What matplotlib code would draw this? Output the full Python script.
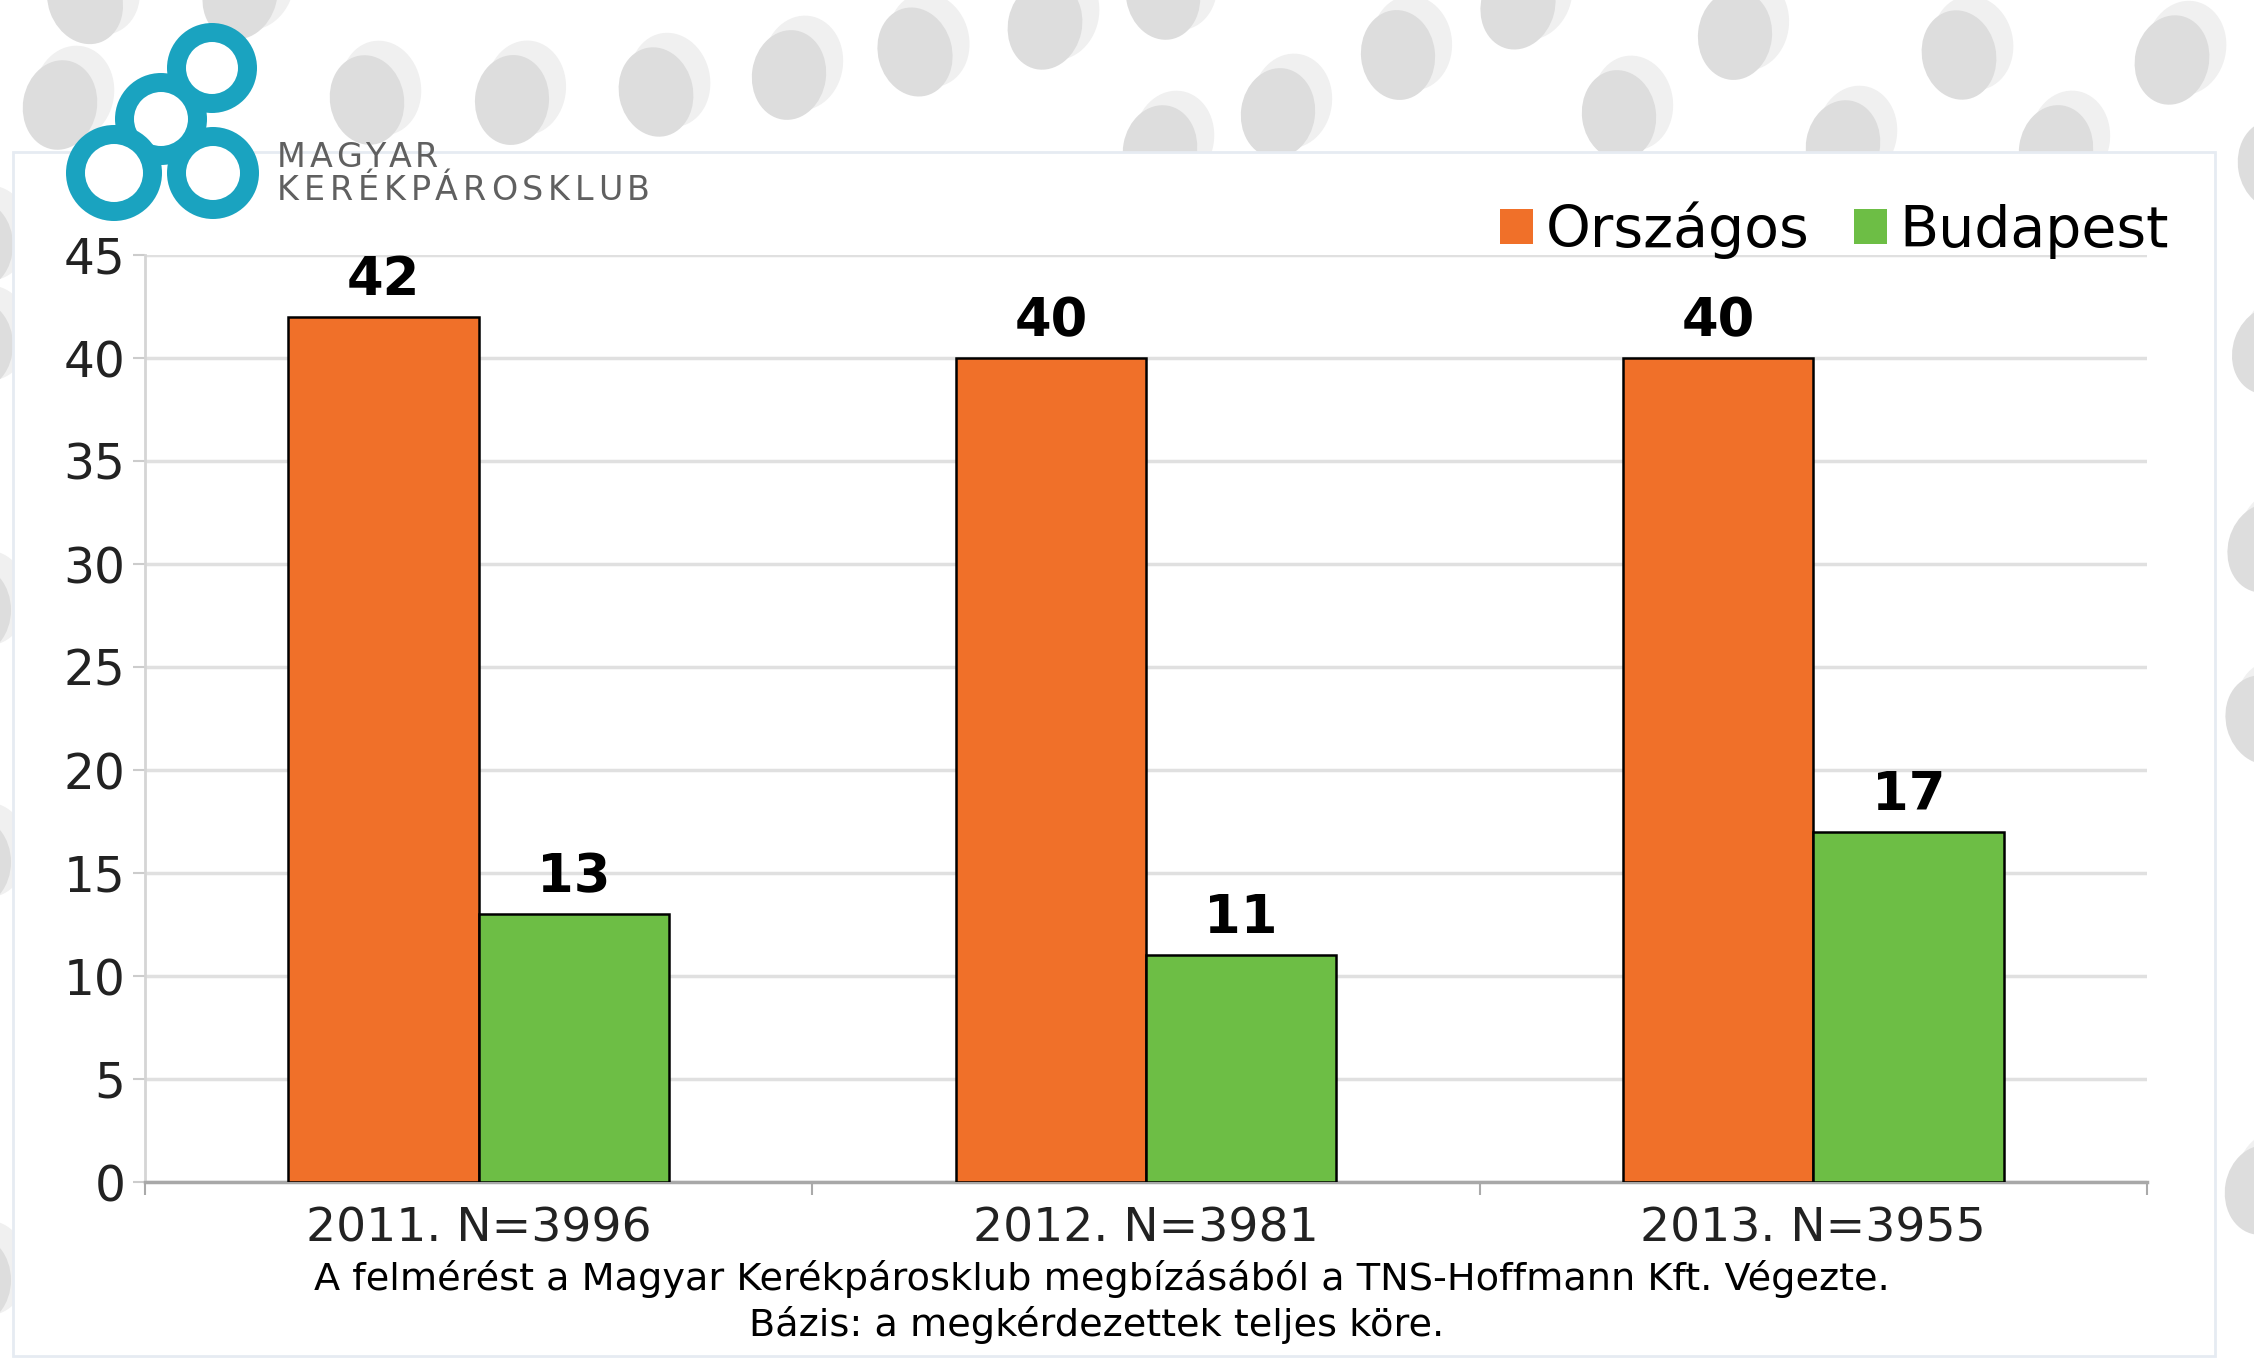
import matplotlib
matplotlib.use("Agg")
import matplotlib.pyplot as plt
from matplotlib.patches import Ellipse, Rectangle, Wedge, Circle, Patch

plt.rcParams['font.family'] = ['DejaVu Sans']

# adatok
years = ["2011. N=3996", "2012. N=3981", "2013. N=3955"]
orszagos = [42, 40, 40]
budapest = [13, 11, 17]
series_names = ["Országos", "Budapest"]
yticks = [0, 5, 10, 15, 20, 25, 30, 35, 40, 45]

note_line1 = "A felmérést a Magyar Kerékpárosklub megbízásából a TNS-Hoffmann Kft. Végezte."
note_line2 = "Bázis: a megkérdezettek teljes köre."

ORANGE = "#F07029"
GREEN = "#6DBE45"
TEAL = "#1AA3C0"

W, H = 2254, 1361
fig = plt.figure(figsize=(W / 100, H / 100), dpi=100)
fig.patch.set_facecolor("white")

# háttér réteg pixel koordinátákban (kavicsok, panel, logó)
bg = fig.add_axes([0, 0, 1, 1])
bg.set_xlim(0, W)
bg.set_ylim(H, 0)
bg.axis("off")

pebbles = [
    (60, 105, 10), (85, 0, -20), (240, -5, 15), (367, 100, -10), (512, 100, 5),
    (656, 92, -12), (789, 75, 8), (915, 52, -15), (1045, 25, 12), (1163, -5, -10),
    (1160, 150, 10), (1278, 113, 8), (1398, 55, -6), (1518, 5, 15), (1619, 115, -8),
    (1735, 35, 6), (1843, 145, 10), (1959, 55, -12), (2056, 150, 8), (2172, 60, 12),
    (2275, 165, -10), (2270, 350, 20), (2265, 548, 15), (2263, 720, -15),
    (2262, 1190, 10), (-24, 245, 0), (-24, 345, 0), (-26, 610, 0), (-26, 862, 0),
    (-26, 1280, 0),
]
for px, py, ang in pebbles:
    bg.add_patch(Ellipse((px + 14, py - 12), 80, 95, angle=ang,
                         facecolor="#f0f0f0", edgecolor="none", zorder=1))
    bg.add_patch(Ellipse((px, py), 74, 90, angle=ang,
                         facecolor="#dddddd", edgecolor="none", zorder=2))

# fehér panel
bg.add_patch(Rectangle((13, 152), 2202, 1204, facecolor="white",
                       edgecolor="#e6ebf2", linewidth=2, zorder=3))

# logó: négy karika, a középső kerül alulra
rings = [(161, 119, 46), (212, 68, 45), (114, 173, 48), (213, 173, 46)]
z = 4
for cx, cy, r in rings:
    bg.add_patch(Wedge((cx, cy), r, 0, 360, width=r, facecolor=TEAL,
                       edgecolor="none", zorder=z))
    bg.add_patch(Circle((cx, cy), r - 19, facecolor="white", edgecolor="none",
                        zorder=z + 0.5))
    z += 1


def spaced_text(ax, x, y, s, spacing, **kw):
    # betűnként rajzolva, megnövelt betűközzel
    renderer = fig.canvas.get_renderer()
    for ch in s:
        t = ax.text(x, y, ch, **kw)
        x += t.get_window_extent(renderer).width + spacing


spaced_text(bg, 277, 167, "MAGYAR", 3.5, fontsize=24, color="#606060",
            va="baseline", zorder=10)
spaced_text(bg, 277, 200, "KERÉKPÁROSKLUB", 4.8, fontsize=24, color="#606060",
            va="baseline", zorder=10)

# fő diagram
ax = fig.add_axes([145 / W, 1 - 1182 / H, 2002 / W, 927 / H])
ax.set_facecolor("none")

x = list(range(len(years)))
bw = 0.285
b1 = ax.bar([i - bw / 2 for i in x], orszagos, width=bw, color=ORANGE,
            edgecolor="black", linewidth=1.8, zorder=3)
b2 = ax.bar([i + bw / 2 for i in x], budapest, width=bw, color=GREEN,
            edgecolor="black", linewidth=1.8, zorder=3)
ax.bar_label(b1, fontsize=38, fontweight="bold", padding=8)
ax.bar_label(b2, fontsize=38, fontweight="bold", padding=8)

ax.set_xlim(-0.5, 2.5)
ax.set_ylim(0, 45)
ax.set_yticks(yticks)
ax.tick_params(axis="y", labelsize=35, length=9, width=1.5, color="#cccccc",
               labelcolor="#222222", pad=5)
ax.yaxis.grid(True, color="#e0e0e0", linewidth=2.5, zorder=0)
ax.set_axisbelow(True)

ax.set_xticks(x)
ax.set_xticklabels(years)
ax.set_xticks([-0.5, 0.5, 1.5, 2.5], minor=True)
ax.tick_params(axis="x", which="major", labelsize=34, length=0, pad=18,
               labelcolor="#222222")
ax.tick_params(axis="x", which="minor", length=9.5, width=1.5, color="#aaaaaa")

for side in ["top", "right"]:
    ax.spines[side].set_visible(False)
ax.spines["left"].set_color("#d5d5d5")
ax.spines["left"].set_linewidth(2)
ax.spines["bottom"].set_color("#a8a8a8")
ax.spines["bottom"].set_linewidth(2.5)

handles = [Patch(facecolor=ORANGE, edgecolor="none"),
           Patch(facecolor=GREEN, edgecolor="none")]
fig.legend(handles, series_names, loc="center right", bbox_to_anchor=(0.9725, 0.831),
           ncol=2, frameon=False, fontsize=41, handlelength=0.58, handleheight=0.58,
           handletextpad=0.22, columnspacing=0.78, borderaxespad=0)

fig.text(1102 / W, 1 - 1279 / H, note_line1, fontsize=27.5, ha="center", va="center")
fig.text(1097 / W, 1 - 1325 / H, note_line2, fontsize=27.5, ha="center", va="center")

fig.savefig("out.png", dpi=100, facecolor=fig.get_facecolor())
